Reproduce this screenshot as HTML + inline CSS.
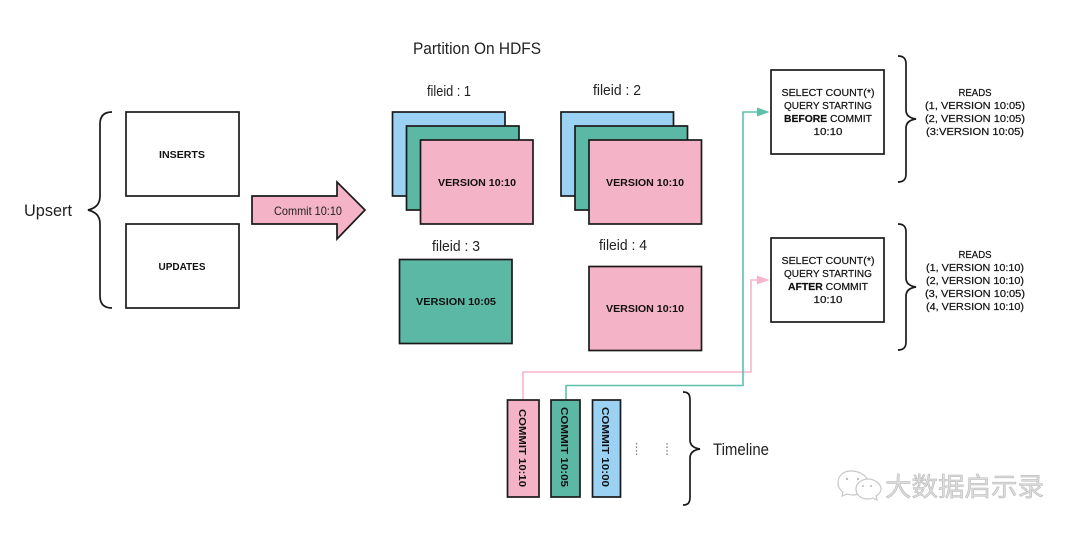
<!DOCTYPE html>
<html><head><meta charset="utf-8"><style>
html,body{margin:0;padding:0;background:#fff}
svg{display:block}
text{font-family:"Liberation Sans","Noto Sans CJK SC",sans-serif;fill:#111}
.h{font-size:17px;fill:#222}
.f{font-size:15px;fill:#222}
.c{font-size:10.5px;font-weight:700;text-anchor:middle}
.s{font-size:10px;text-anchor:middle;fill:#111;stroke:#111;stroke-width:.2}
.b{fill:none;stroke:#1a1a1a;stroke-width:1.7}
rect.r{stroke:#1a1a1a;stroke-width:1.7}
</style></head><body>
<svg width="1080" height="533" viewBox="0 0 1080 533" xmlns="http://www.w3.org/2000/svg">
<rect width="1080" height="533" fill="#fff"/>
<text class="h" x="24" y="216" textLength="48" lengthAdjust="spacingAndGlyphs">Upsert</text>
<path class="b" d="M112 112C104 112 100 116 100 124V196C100 204 96 208 88 210C96 212 100 216 100 224V296C100 304 104 308 112 308"/>
<rect class="r" x="126" y="112" width="113" height="84" fill="#fff"/>
<rect class="r" x="126" y="224" width="113" height="84" fill="#fff"/>
<text class="c" x="182" y="158" textLength="46" lengthAdjust="spacingAndGlyphs">INSERTS</text>
<text class="c" x="182" y="270" textLength="47" lengthAdjust="spacingAndGlyphs">UPDATES</text>
<path d="M252 196H337V182L365 210L337 239V224H252Z" fill="#f4b3c6" stroke="#1a1a1a" stroke-width="1.7"/>
<text x="274" y="215" font-size="12" style="fill:#222" textLength="68" lengthAdjust="spacingAndGlyphs">Commit 10:10</text>

<text class="h" x="413" y="54" textLength="128" lengthAdjust="spacingAndGlyphs">Partition On HDFS</text>
<text class="f" x="427" y="96" textLength="44" lengthAdjust="spacingAndGlyphs">fileid : 1</text>
<text class="f" x="593" y="95" textLength="48" lengthAdjust="spacingAndGlyphs">fileid : 2</text>
<text class="f" x="432" y="251" textLength="48" lengthAdjust="spacingAndGlyphs">fileid : 3</text>
<text class="f" x="599" y="250" textLength="48" lengthAdjust="spacingAndGlyphs">fileid : 4</text>

<rect class="r" x="392.5" y="112" width="112.5" height="84" fill="#9bd1f3"/>
<rect class="r" x="406.5" y="126" width="112.5" height="84" fill="#5bb8a5"/>
<rect class="r" x="420.5" y="140" width="112.5" height="84" fill="#f4b3c6"/>
<rect class="r" x="561" y="112" width="112.5" height="84" fill="#9bd1f3"/>
<rect class="r" x="575" y="126" width="112.5" height="84" fill="#5bb8a5"/>
<rect class="r" x="589" y="140" width="112.5" height="84" fill="#f4b3c6"/>
<rect class="r" x="399.5" y="259.5" width="112.5" height="84" fill="#5bb8a5"/>
<rect class="r" x="589" y="266.5" width="112.5" height="84" fill="#f4b3c6"/>
<text class="c" x="477" y="186" textLength="78" lengthAdjust="spacingAndGlyphs">VERSION 10:10</text>
<text class="c" x="645" y="186" textLength="78" lengthAdjust="spacingAndGlyphs">VERSION 10:10</text>
<text class="c" x="456" y="305" textLength="80" lengthAdjust="spacingAndGlyphs">VERSION 10:05</text>
<text class="c" x="645" y="312" textLength="78" lengthAdjust="spacingAndGlyphs">VERSION 10:10</text>

<rect class="r" x="771" y="70" width="113" height="84" fill="#fff"/>
<rect class="r" x="771" y="238" width="113" height="84" fill="#fff"/>
<text class="s" x="828" y="96" textLength="93" lengthAdjust="spacingAndGlyphs">SELECT COUNT(*)</text>
<text class="s" x="828" y="109" textLength="88" lengthAdjust="spacingAndGlyphs">QUERY STARTING</text>
<text class="s" x="828" y="122" textLength="88" lengthAdjust="spacingAndGlyphs"><tspan font-weight="700">BEFORE</tspan> COMMIT</text>
<text class="s" x="828" y="135" textLength="29" lengthAdjust="spacingAndGlyphs" font-size="10" style="font-size:10px">10:10</text>
<text class="s" x="828" y="264" textLength="93" lengthAdjust="spacingAndGlyphs">SELECT COUNT(*)</text>
<text class="s" x="828" y="277" textLength="88" lengthAdjust="spacingAndGlyphs">QUERY STARTING</text>
<text class="s" x="828" y="290" textLength="80" lengthAdjust="spacingAndGlyphs"><tspan font-weight="700">AFTER</tspan> COMMIT</text>
<text class="s" x="828" y="303" textLength="29" lengthAdjust="spacingAndGlyphs">10:10</text>
<path class="b" d="M898 56C903 56 906 58 906 64V110C906 115 909 118 916 119C909 120 906 123 906 128V174C906 180 903 182 898 182"/>
<path class="b" d="M898 224C903 224 906 226 906 232V278C906 283 909 286 916 287C909 288 906 291 906 296V342C906 348 903 350 898 350"/>
<text class="s" x="975" y="96" textLength="33" lengthAdjust="spacingAndGlyphs">READS</text>
<text class="s" x="975" y="109" textLength="100" lengthAdjust="spacingAndGlyphs">(1, VERSION 10:05)</text>
<text class="s" x="975" y="122" textLength="100" lengthAdjust="spacingAndGlyphs">(2, VERSION 10:05)</text>
<text class="s" x="975" y="135" textLength="98" lengthAdjust="spacingAndGlyphs">(3:VERSION 10:05)</text>
<text class="s" x="975" y="258" textLength="33" lengthAdjust="spacingAndGlyphs">READS</text>
<text class="s" x="975" y="271" textLength="98" lengthAdjust="spacingAndGlyphs">(1, VERSION 10:10)</text>
<text class="s" x="975" y="284" textLength="98" lengthAdjust="spacingAndGlyphs">(2, VERSION 10:10)</text>
<text class="s" x="975" y="297" textLength="100" lengthAdjust="spacingAndGlyphs">(3, VERSION 10:05)</text>
<text class="s" x="975" y="310" textLength="98" lengthAdjust="spacingAndGlyphs">(4, VERSION 10:10)</text>

<path d="M523 400V372H751V280H758" fill="none" stroke="#f7b5cb" stroke-width="1.6"/>
<path d="M757 275.5L769.5 280L757 284.5Z" fill="#f7b5cb"/>
<path d="M566 400V385.5H743V112H758" fill="none" stroke="#5fc0a9" stroke-width="1.6"/>
<path d="M757 107.5L769.5 112L757 116.5Z" fill="#5fc0a9"/>

<rect class="r" x="507.5" y="400" width="31.5" height="97" fill="#f4b3c6"/>
<rect class="r" x="551" y="400" width="29" height="97" fill="#5bb8a5"/>
<rect class="r" x="592.5" y="400" width="28" height="97" fill="#9bd1f3"/>
<text class="c" transform="translate(523,448) rotate(90)" y="4" textLength="78" lengthAdjust="spacingAndGlyphs">COMMIT 10:10</text>
<text class="c" transform="translate(565,447) rotate(90)" y="4" textLength="80" lengthAdjust="spacingAndGlyphs">COMMIT 10:05</text>
<text class="c" transform="translate(606,447) rotate(90)" y="4" textLength="80" lengthAdjust="spacingAndGlyphs">COMMIT 10:00</text>
<path d="M636.5 443V455M667 443V455" stroke="#777" stroke-width="1.2" stroke-dasharray="1.5 2" fill="none"/>
<path class="b" d="M683 392C688 392 690 394 690 400V440C690 445 693 448 700 449C693 450 690 453 690 458V497C690 503 688 505 683 505"/>
<text class="h" x="713" y="455" textLength="56" lengthAdjust="spacingAndGlyphs">Timeline</text>

<g fill="#fff" stroke="#c8c8c8" stroke-width="1.2">
<path d="M851 471C843 471 838 476 838 483C838 487 840 490 843 492L842 496L847 494C849 495 852 495 854 495C857 495 860 493 860 489C860 485 864 481 868 481C866 475 859 471 851 471Z"/>
<path d="M868 479C861 479 856 484 856 489C856 495 861 499 868 499C870 499 871 499 873 498L877 500L876 496C879 494 881 492 881 489C881 484 875 479 868 479Z"/>
</g>
<g fill="#bbb"><circle cx="847" cy="479" r="1.2"/><circle cx="858" cy="479" r="1.2"/><circle cx="863" cy="486" r="1"/><circle cx="871" cy="486" r="1"/></g>
<text x="885" y="496" font-size="26" style="fill:#dcdcdc;font-family:'Noto Sans CJK SC','WenQuanYi Zen Hei',sans-serif" stroke="#b4b4b4" stroke-width=".5" textLength="159" lengthAdjust="spacingAndGlyphs">大数据启示录</text>
</svg>
</body></html>
